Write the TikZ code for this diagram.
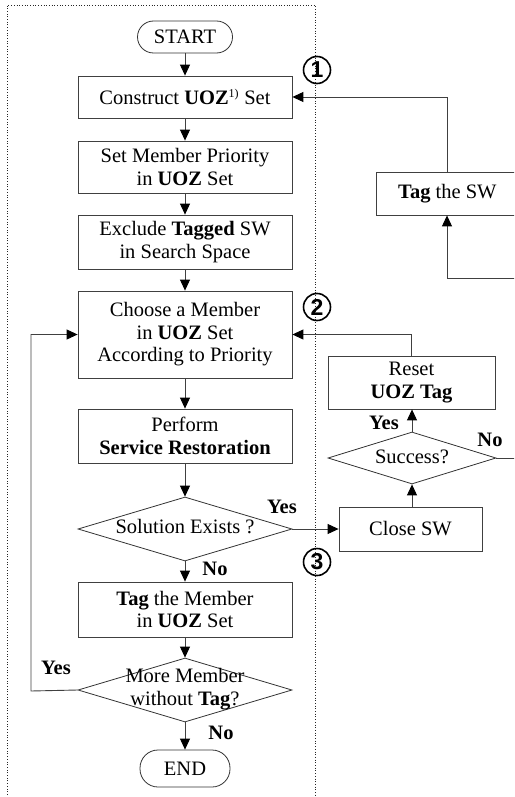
\documentclass[tikz,border=0pt]{standalone}
\usepackage{fontspec}
\setmainfont{Liberation Serif}
\newfontfamily\numfont{Liberation Sans}
\usetikzlibrary{arrows.meta,shapes.geometric}
\tikzset{
  flow/.style={draw=black!75, line width=0.9pt},
  arr/.style={flow, -{Triangle[length=11pt,width=10pt,color=black]}},
  box/.style={draw=black!75, line width=0.8pt, minimum height=#1, align=center, inner sep=0pt},
  box/.default=42pt,
  term/.style={draw=black!80, line width=0.8pt, rounded corners=16pt, inner sep=0pt},
  decide/.style={diamond, draw=black!80, line width=0.8pt, aspect=3.34, inner sep=0pt, align=center},
  lbl/.style={font=\fontsize{20.5}{23}\selectfont\bfseries, inner sep=0pt},
  tagcircle/.style={circle, draw=black, line width=1.6pt, minimum size=27pt, inner sep=0pt, font=\numfont\bfseries\fontsize{23}{23}\selectfont},
}
\begin{document}
\begin{tikzpicture}[x=1pt, y=-1pt, font=\fontsize{20.5}{22.5}\selectfont]
\useasboundingbox (0,0) rectangle (514,797);
\clip (0,0) rectangle (514,797);

% dotted frame round the main procedure
\draw[black!85, dotted, line width=0.7pt] (7,800) -- (7,5) -- (315,5) -- (315,800);

% main column
\node[term, minimum width=95pt, minimum height=32pt] (start) at (185,37) {START};
\node[box, minimum width=214pt] (construct) at (185,97) {Construct \textbf{UOZ}\textsuperscript{\fontsize{12}{12}\selectfont 1)} Set};
\node[box=52pt, minimum width=214pt] (prio) at (185,167) {Set Member Priority\\in \textbf{UOZ} Set};
\node[box=54pt, minimum width=214pt] (excl) at (185,242) {Exclude \textbf{Tagged} SW\\in Search Space};
\node[box=87pt, minimum width=214pt] (choose) at (185,334.5) {Choose a Member\\in \textbf{UOZ} Set\\According to Priority};
\node[box=54pt, minimum width=214pt] (perform) at (185,436) {Perform\\\textbf{Service Restoration}};
\node[decide, minimum width=214pt, minimum height=64pt] (sol) at (185,529) {};
\node (soltext) at (185,527) {Solution Exists ?};
\node[box=55pt, minimum width=214pt] (tagm) at (185,609.5) {\textbf{Tag} the Member\\in \textbf{UOZ} Set};
\node[decide, minimum width=214pt, minimum height=64pt] (more) at (185,690) {};
\node[align=center] (moretext) at (185,689) {More Member\\without \textbf{Tag}?};
\node[term, minimum width=90pt, minimum height=37pt, rounded corners=18pt] (end) at (185,768.5) {END};

% right column
\node[box=44pt, minimum width=143pt] (close) at (410.5,529) {Close SW};
\node[decide, minimum width=168pt, minimum height=52pt, aspect=3.2] (succ) at (412,458) {};
\node (succtext) at (412,457) {Success?};
\node[box=53pt, minimum width=167pt] (reset) at (411.5,382.5) {Reset\\\textbf{UOZ Tag}};
\node[box=43pt, minimum width=170pt, anchor=west] (tagsw) at (376,193.5) {\hspace*{-28pt}\textbf{Tag} the SW};

% circled step markers on the frame
\node[tagcircle] (m1) at (317,70) {1};
\node[tagcircle] (m2) at (317,307) {2};
\node[tagcircle] (m3) at (317,562) {3};

% main flow
\draw[arr] (start) -- (construct);
\draw[arr] (construct) -- (prio);
\draw[arr] (prio) -- (excl);
\draw[arr] (excl) -- (choose);
\draw[arr] (choose) -- (perform);
\draw[arr] (perform) -- (sol.north);
\draw[arr] (sol.south) -- (tagm);
\draw[arr] (tagm) -- (more.north);
\draw[arr] (more.south) -- (end);
\coordinate (yl) at (31,691);
\draw[arr] (more.west) -- (yl) |- (choose.west);

% right loop
\coordinate (tx) at (447,0);
\draw[arr] (sol.east) -- (close.west);
\draw[arr] (close.north -| succ.south) -- (succ.south);
\draw[arr] (succ.north) -- (reset.south -| succ.north);
\draw[arr] (reset.north) |- (choose.east);
\coordinate (rt) at (530,458);
\coordinate (rb) at (530,278);
\draw[flow] (succ.east) -- (rt) -- (rb);
\draw[arr] (rb) -| (tagsw.south -| tx);
\draw[arr] (tagsw.north -| tx) |- (construct.east);

% branch labels
\node[lbl] (l1) at (282,507) {Yes};
\node[lbl] (l2) at (215,569) {No};
\node[lbl] (l3) at (56,668) {Yes};
\node[lbl] (l4) at (221,733) {No};
\node[lbl] (l5) at (384,423) {Yes};
\node[lbl] (l6) at (490,440) {No};
\end{tikzpicture}
\end{document}
